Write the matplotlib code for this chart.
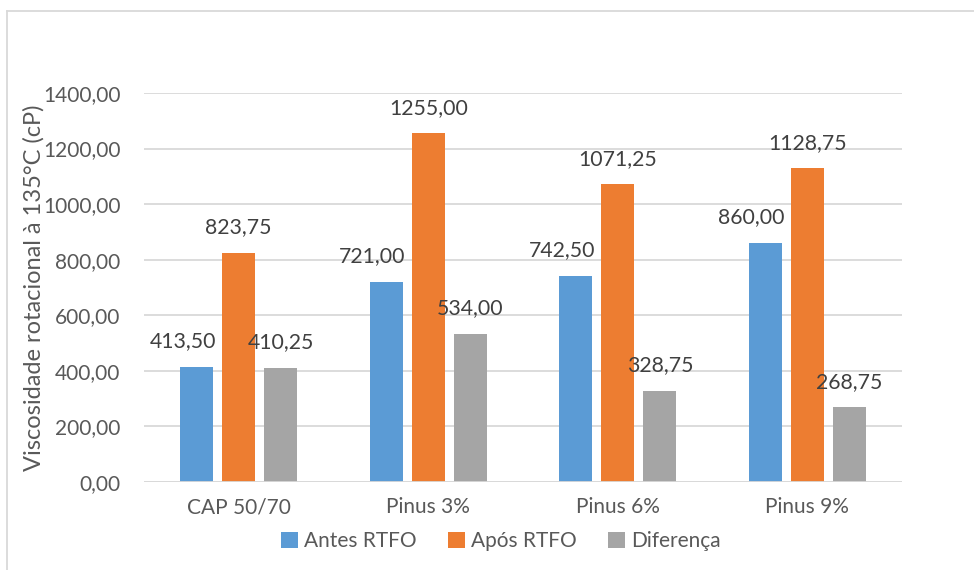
import matplotlib.pyplot as plt
import numpy as np
from matplotlib.lines import Line2D

plt.rcParams['font.family'] = ['Lato', 'DejaVu Sans']

categories = ['CAP 50/70', 'Pinus 3%', 'Pinus 6%', 'Pinus 9%']
series_names = ['Antes RTFO', 'Após RTFO', 'Diferença']
antes = [413.50, 721.00, 742.50, 860.00]
apos = [823.75, 1255.00, 1071.25, 1128.75]
diferenca = [410.25, 534.00, 328.75, 268.75]
y_ticks = [0, 200, 400, 600, 800, 1000, 1200, 1400]

colors = ['#5B9BD5', '#ED7D31', '#A5A5A5']
label_shift = [-10, 0, 0]  # points, blue labels sit a bit to the left

fig = plt.figure(figsize=(9.74, 5.70), dpi=100)
ax = fig.add_axes([144 / 974, 1 - 482 / 570, 758 / 974, 389 / 570])

x = np.arange(len(categories))
width = 0.174
step = 0.222

for k, (name, vals) in enumerate(zip(series_names, [antes, apos, diferenca])):
    pos = x + (k - 1) * step
    ax.bar(pos, vals, width=width, color=colors[k], label=name, zorder=3)
    for xp, v in zip(pos, vals):
        ax.annotate('{:.2f}'.format(v).replace('.', ','), (xp, v),
                    xytext=(label_shift[k], 18.5), textcoords='offset points',
                    ha='center', va='center', fontsize=15.3, color='#404040')

ax.set_xlim(-0.5, len(categories) - 0.5)
ax.set_ylim(0, 1400)
ax.set_yticks(y_ticks)
ax.set_yticklabels(['{:.2f}'.format(t).replace('.', ',') for t in y_ticks])
ax.set_xticks(x)
ax.set_xticklabels(categories)
ax.tick_params(axis='both', length=0, labelsize=15, labelcolor='#595959')
ax.tick_params(axis='y', pad=17)
ax.tick_params(axis='x', pad=11)
ax.grid(axis='y', color='#D9D9D9', linewidth=1.3, zorder=0)
for s in ax.spines.values():
    s.set_visible(False)
ax.axhline(0, color='#D9D9D9', linewidth=1.3, zorder=4)

ax.set_ylabel('Viscosidade rotacional à 135°C (cP)', fontsize=17, color='#595959')
ax.yaxis.set_label_coords((45 - 144) / 758, 0.5)

fig.legend(loc='center', bbox_to_anchor=(501 / 974, 1 - 541 / 570), ncol=3,
           frameon=False, fontsize=15, labelcolor='#595959',
           handlelength=0.8, handleheight=0.8, handletextpad=0.3,
           columnspacing=1.5)

# chart area border (top and left edges)
fig.add_artist(Line2D([7 / 974, 1], [1 - 11 / 570, 1 - 11 / 570],
                      transform=fig.transFigure, color='#D9D9D9', linewidth=1.3))
fig.add_artist(Line2D([7 / 974, 7 / 974], [0, 1 - 11 / 570],
                      transform=fig.transFigure, color='#D9D9D9', linewidth=1.3))

fig.savefig('out.png', dpi=100)
